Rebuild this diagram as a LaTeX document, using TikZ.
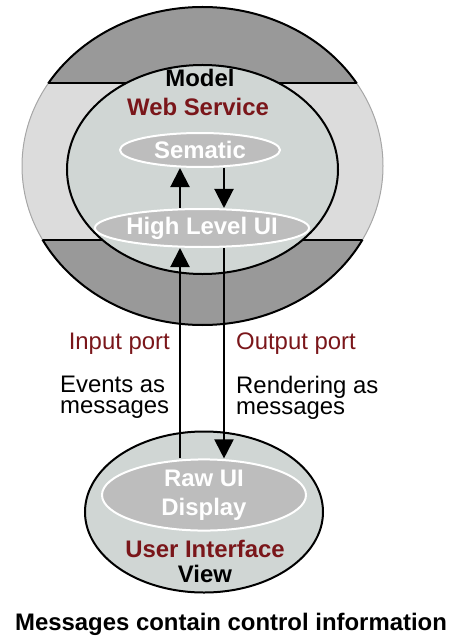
\documentclass[tikz,border=0pt]{standalone}
\usepackage{fontspec}
\setmainfont{Liberation Sans}
\usetikzlibrary{shapes.geometric,arrows.meta}

\definecolor{bandDark}{RGB}{153,153,153}
\definecolor{bandLight}{RGB}{220,220,220}
\definecolor{coreFill}{RGB}{208,214,212}
\definecolor{innerFill}{RGB}{189,189,189}
\definecolor{deepRed}{RGB}{122,22,26}

\begin{document}
\begin{tikzpicture}[x=1bp,y=-1bp,
  font=\fontsize{24}{26}\selectfont,
  outline/.style={line width=2bp},
  shell/.style={ellipse, draw=black, line width=2bp, fill=coreFill, inner sep=0pt},
  layer/.style={ellipse, draw=white, line width=2bp, fill=innerFill, text=white,
    font=\fontsize{24}{29}\selectfont\bfseries, inner sep=0pt, align=center},
  title/.style={font=\fontsize{24}{26}\selectfont\bfseries, inner sep=0pt, anchor=base},
  portlabel/.style={text=deepRed, inner sep=0pt},
  note/.style={font=\fontsize{24}{21}\selectfont, align=left, inner sep=0pt, anchor=north west},
  flow/.style={line width=2bp, -{Triangle[length=19bp,width=19bp]}}
]
\useasboundingbox (0,0) rectangle (452,637);

% outer ring with its dark top and bottom bands
\coordinate (oc) at (202.5,166);
\fill[bandLight] (oc) ellipse [x radius=180.5, y radius=159];
\draw[black!35, line width=1bp] (oc) ellipse [x radius=180.5, y radius=159];
\begin{scope}
  \clip (oc) ellipse [x radius=180.5, y radius=159];
  \fill[bandDark] (0,0) rectangle (452,83);
  \fill[bandDark] (0,240) rectangle (452,330);
  \draw[outline] (0,83) -- (452,83);
  \draw[outline] (0,240) -- (452,240);
\end{scope}
\begin{scope}
  \clip (0,-5) rectangle (452,83);
  \draw[outline] (oc) ellipse [x radius=180.5, y radius=159];
\end{scope}
\begin{scope}
  \clip (0,240) rectangle (452,340);
  \draw[outline] (oc) ellipse [x radius=180.5, y radius=159];
\end{scope}

% model core
\node[shell, minimum width=271bp, minimum height=209bp] (core) at (202.5,169.5) {};
\node[title] (model) at (200,87) {Model};
\node[title, text=deepRed] (service) at (198,116) {Web Service};
\node[layer, minimum width=160bp, minimum height=34bp] (sem) at (200,150) {Sematic};
\node[layer, minimum width=202bp, minimum height=38bp] (hl) at (202,228) {High Level UI};

% view
\node[shell, minimum width=238bp, minimum height=161bp] (view) at (204,512) {};
\node[layer, minimum width=204bp, minimum height=64bp] (raw) at (204,495) {Raw UI\\Display};
\node[title, text=deepRed] (ui) at (205,557) {User Interface};
\node[title] (viewlabel) at (205,582) {View};

% message paths
\coordinate (xin) at (180,0);
\coordinate (xout) at (224,0);
\draw[flow] (hl.north -| xin) -- (sem.south -| xin);
\draw[flow] (sem.south -| xout) -- (hl.north -| xout);
\draw[flow] (raw.north -| xin) -- (hl.south -| xin);
\draw[flow] (hl.south -| xout) -- (raw.north -| xout);

% port labels
\node[portlabel, anchor=base east] (inport) at (170,349) {Input port};
\node[portlabel, anchor=base west] (outport) at (236,349) {Output port};
\node[note] (events) at (60,376) {Events as\\messages};
\node[note] (render) at (236,376) {Rendering as\\messages};

\node[title] (caption) at (231,630) {Messages contain control information};
\end{tikzpicture}
\end{document}
